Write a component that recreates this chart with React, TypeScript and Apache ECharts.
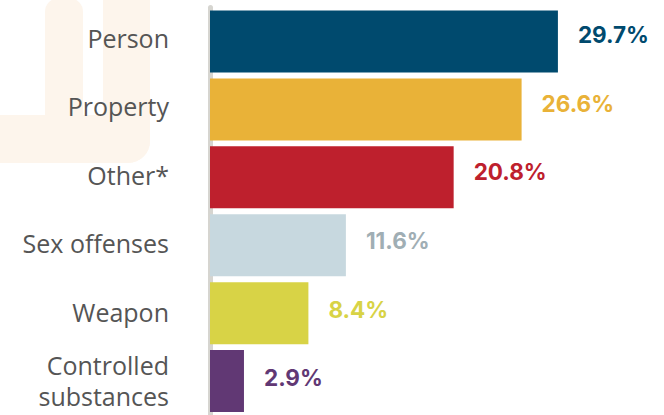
import React, { useEffect, useRef } from "react";
import * as echarts from "echarts";

const categories = ["Person", "Property", "Other*", "Sex offenses", "Weapon", "Controlled\nsubstances"];
const values = [29.7, 26.6, 20.8, 11.6, 8.4, 2.9];
const barColors = ["#004a6e", "#e9b238", "#be202d", "#c7d8df", "#d8d346", "#613874"];
const labelColors = ["#004a6e", "#e9b238", "#be202d", "#a0aeb4", "#d8d346", "#613874"];

const WM = "#fdf5ec";

export default function App() {
  const ref = useRef<HTMLDivElement>(null);
  useEffect(() => {
    document.body.style.margin = "0";
    const chart = echarts.init(ref.current!, null, { renderer: "svg" });
    chart.setOption({
      animation: false,
      backgroundColor: "#ffffff",
      graphic: [
        { type: "rect", z: -10, silent: true, shape: { x: 45, y: -2, width: 38, height: 140, r: [14, 14, 0, 0] }, style: { fill: WM } },
        { type: "rect", z: -10, silent: true, shape: { x: 103, y: -20, width: 47, height: 183, r: [0, 0, 22, 0] }, style: { fill: WM } },
        { type: "rect", z: -10, silent: true, shape: { x: -10, y: 115, width: 160, height: 48, r: [0, 0, 22, 0] }, style: { fill: WM } },
      ],
      grid: [
        { left: 210, top: 7.5, width: 410, height: 408.6, containLabel: false },
        { left: 210, top: 3.2, width: 410, height: 417.6, containLabel: false },
      ],
      xAxis: [
        { type: "value", min: 0, max: 35, show: false, gridIndex: 0 },
        { type: "value", min: 0, max: 35, show: false, gridIndex: 1 },
      ],
      yAxis: [
        {
          type: "category",
          gridIndex: 0,
          inverse: true,
          data: categories,
          offset: 20,
          axisLine: { show: true, lineStyle: { color: "#d6d5d0", width: 5 } },
          axisTick: { show: false },
          splitLine: { show: false },
          axisLabel: { show: false },
        },
        {
          type: "category",
          gridIndex: 1,
          inverse: true,
          data: categories,
          offset: 20,
          axisLine: { show: false },
          axisTick: { show: false },
          splitLine: { show: false },
          axisLabel: {
            margin: 21,
            color: "#555555",
            fontFamily: "Open Sans",
            fontSize: 25,
            lineHeight: 31,
            align: "right",
            padding: [0, 0, 2, 0],
          },
        },
      ],
      series: [
        {
          type: "bar",
          xAxisIndex: 0,
          yAxisIndex: 0,
          barWidth: 62,
          data: values.map((v, i) => ({
            value: v,
            itemStyle: { color: barColors[i] },
          })),
          label: { show: false },
        },
        {
          type: "bar",
          xAxisIndex: 1,
          yAxisIndex: 1,
          barWidth: 10,
          silent: true,
          itemStyle: { color: "rgba(0,0,0,0)" },
          data: values.map((v, i) => ({
            value: v,
            label: { color: labelColors[i] },
          })),
          label: {
            show: true,
            position: "right",
            distance: 20,
            offset: [0, -3],
            fontFamily: "Inter",
            fontWeight: "bold",
            fontSize: 22.5,
            formatter: (p: any) => p.value.toFixed(1) + "%",
          },
        },
      ],
    });
    return () => chart.dispose();
  }, []);
  return <div ref={ref} style={{ width: 664, height: 415, position: "absolute", left: 0, top: 0 }} />;
}
